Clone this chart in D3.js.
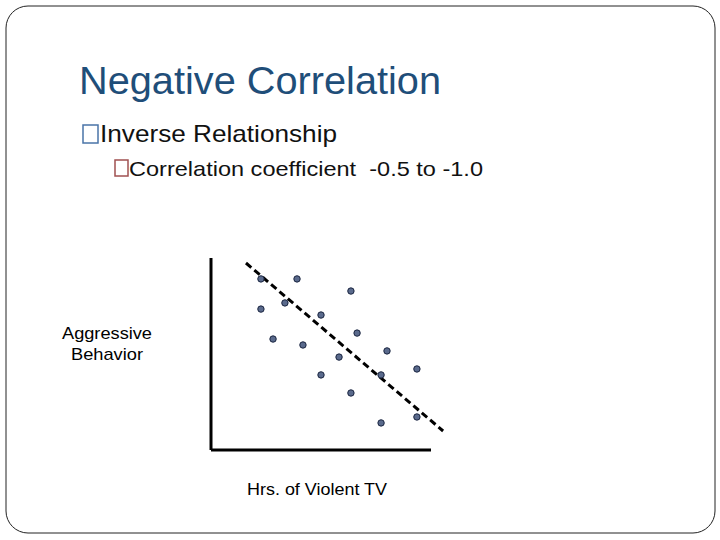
<!DOCTYPE html>
<html><head><meta charset="utf-8">
<script src="https://cdn.jsdelivr.net/npm/d3@7"></script>
<style>body{margin:0;background:#fff} text{white-space:pre}</style>
</head><body>
<script>
const hours = [2.27, 3.91, 6.36, 3.36, 2.27, 5.0, 6.64, 2.82, 4.18, 8.0, 5.82, 9.36, 5.0, 7.73, 6.36, 9.36, 7.73];
const aggression = [8.91, 8.91, 8.28, 7.66, 7.34, 7.03, 6.09, 5.78, 5.47, 5.16, 4.84, 4.22, 3.91, 3.91, 2.97, 1.72, 1.41];
const trendX = [1.59, 10.55];
const trendY = [9.74, 0.99];

const svg = d3.select('body').append('svg').attr('width', 720).attr('height', 540);
svg.append('rect').attr('x', 6).attr('y', 6).attr('width', 709).attr('height', 527).attr('rx', 22)
  .attr('fill', '#fff').attr('stroke', '#222').attr('stroke-width', 1);

const font = 'Liberation Sans, Arial, sans-serif';
svg.append('text').attr('x', 79).attr('y', 94).attr('font-family', font).attr('font-size', 38)
  .attr('textLength', 362).attr('lengthAdjust', 'spacingAndGlyphs')
  .attr('fill', '#1f4e79').text('Negative Correlation');
svg.append('rect').attr('x', 83).attr('y', 125).attr('width', 15).attr('height', 18).attr('fill', 'none').attr('stroke', '#4a74a8').attr('stroke-width', 1.5);
svg.append('text').attr('x', 100).attr('y', 142).attr('font-family', font).attr('font-size', 24)
  .attr('textLength', 237).attr('lengthAdjust', 'spacingAndGlyphs').attr('fill', '#111').text('Inverse Relationship');
svg.append('rect').attr('x', 115).attr('y', 160).attr('width', 13).attr('height', 16).attr('fill', 'none').attr('stroke', '#a05050').attr('stroke-width', 1.5);
svg.append('text').attr('x', 129).attr('y', 176).attr('font-family', font).attr('font-size', 21)
  .attr('textLength', 354).attr('lengthAdjust', 'spacingAndGlyphs').attr('fill', '#111').text('Correlation coefficient  -0.5 to -1.0');

const x = d3.scaleLinear().domain([0, 10]).range([211, 431]);
const y = d3.scaleLinear().domain([0, 10]).range([450, 258]);

svg.append('path').attr('fill', 'none').attr('stroke', '#000').attr('stroke-width', 3)
  .attr('d', `M${x(0)},${y(0)}L${x(10)},${y(0)}`);
svg.append('path').attr('fill', 'none').attr('stroke', '#000').attr('stroke-width', 3)
  .attr('d', `M${x(0)},${y(0)}L${x(0)},${y(10)}`);

svg.append('path').datum(trendX.map((v, i) => [v, trendY[i]]))
  .attr('fill', 'none').attr('stroke', '#000').attr('stroke-width', 3).attr('stroke-dasharray', '7,4')
  .attr('d', d3.line().x(d => x(d[0])).y(d => y(d[1])));

svg.append('g').selectAll('circle').data(hours).join('circle')
  .attr('cx', d => x(d)).attr('cy', (d, i) => y(aggression[i])).attr('r', 3.2)
  .attr('fill', '#5a6a8c').attr('stroke', '#1a2540').attr('stroke-width', 1);

svg.append('text').attr('x', 107).attr('y', 339).attr('text-anchor', 'middle').attr('font-family', font).attr('font-size', 17)
  .attr('textLength', 90).attr('lengthAdjust', 'spacingAndGlyphs').text('Aggressive');
svg.append('text').attr('x', 107).attr('y', 360).attr('text-anchor', 'middle').attr('font-family', font).attr('font-size', 17)
  .attr('textLength', 72).attr('lengthAdjust', 'spacingAndGlyphs').text('Behavior');
svg.append('text').attr('x', 317).attr('y', 495).attr('text-anchor', 'middle').attr('font-family', font).attr('font-size', 17)
  .attr('textLength', 140).attr('lengthAdjust', 'spacingAndGlyphs').text('Hrs. of Violent TV');
</script>
</body></html>
